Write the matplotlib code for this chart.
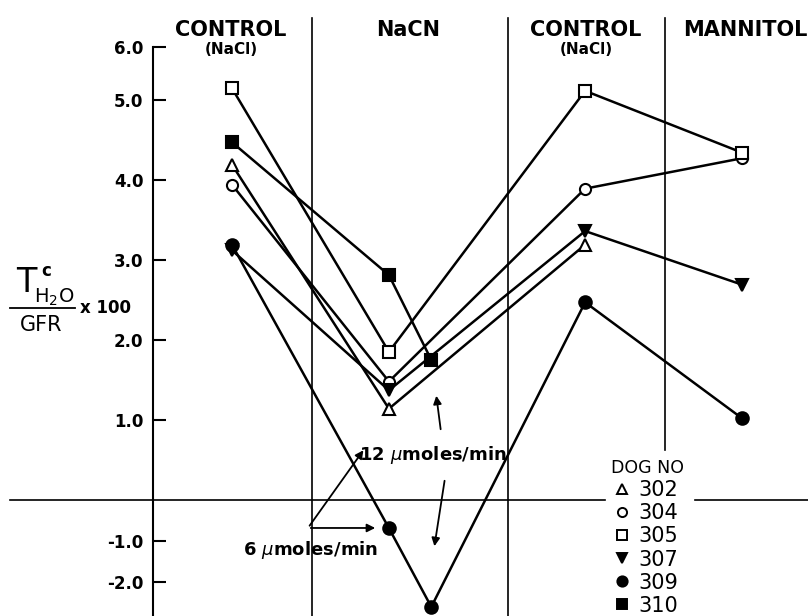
import numpy as np
import matplotlib
matplotlib.use("Agg")
import matplotlib.pyplot as plt
from matplotlib.lines import Line2D

# ---- data ----
conditions = ["CONTROL\n(NaCl)", "NaCN 6", "NaCN 12", "CONTROL\n(NaCl)", "MANNITOL"]
cond_x = [0.0, 1.0, 1.27, 2.25, 3.25]
dogs = ["302", "304", "305", "307", "309", "310"]
nan = np.nan
dog302 = [4.19, 1.14, nan, 3.19, nan]
dog304 = [3.94, 1.48, nan, 3.89, 4.27]
dog305 = [5.22, 1.85, nan, 5.17, 4.34]
dog307 = [3.12, 1.37, nan, 3.36, 2.69]
dog309 = [3.19, -0.69, -2.62, 2.47, 1.02]
dog310 = [4.47, 2.81, 1.75, nan, nan]
series = [dog302, dog304, dog305, dog307, dog309, dog310]
markers = ["^", "o", "s", "v", "o", "s"]
filled = [False, False, False, True, True, True]
msizes = [8, 8, 8, 9, 9, 8]
separators = [0.51, 1.76, 2.76]
yticks = [-2, -1, 1, 2, 3, 4, 5, 6]

# ---- scale: negative half compressed, above 5 compressed ----
def fwd(v):
    v = np.asarray(v, float)
    return np.where(v < 0, v * 0.51, np.where(v > 5, 5 + (v - 5) * 0.66, v))

def inv(t):
    t = np.asarray(t, float)
    return np.where(t < 0, t / 0.51, np.where(t > 5, 5 + (t - 5) / 0.66, t))

W, H = 808, 616
fig = plt.figure(figsize=(W / 100, H / 100), dpi=100)
ax = fig.add_axes([153 / W, 0.0, 1 - 153 / W, 1 - 47 / H])
ax.set_yscale("function", functions=(fwd, inv))
ax.set_xlim(-0.503, 3.67)
ax.set_ylim(-1.45 / 0.51, 6.0)

for vals, m, f, ms in zip(series, markers, filled, msizes):
    x = np.array(cond_x)
    y = np.array(vals)
    ok = ~np.isnan(y)
    ax.plot(x[ok], y[ok], color="black", lw=1.8, zorder=2)
    ax.plot(x[ok], y[ok], ls="none", marker=m, ms=ms,
            mfc="black" if f else "white", mec="black", mew=1.5, zorder=3)

# separators
ax.axvline(separators[0], ymin=0, ymax=1.051, color="black", lw=1.2, clip_on=False)
ax.axvline(separators[1], ymin=0, ymax=1.051, color="black", lw=1.2, clip_on=False)
ax.axvline(separators[2], ymin=0.292, ymax=1.051, color="black", lw=1.2, clip_on=False)

# zero line with gap for legend
tr = ax.get_yaxis_transform()
ax.plot([-0.218, 0.69], [0, 0], transform=tr, color="black", lw=1.2, clip_on=False)
ax.plot([0.827, 1.0], [0, 0], transform=tr, color="black", lw=1.2, clip_on=False)

# spines / ticks
for s in ["top", "right", "bottom"]:
    ax.spines[s].set_visible(False)
ax.spines["left"].set_linewidth(1.5)
ax.set_xticks([])
ax.set_yticks(yticks)
ax.set_yticklabels([f"{t:.1f}" for t in yticks])
ax.tick_params(axis="y", direction="in", length=9, width=1.5, pad=7,
               labelsize=12)
for lab in ax.get_yticklabels():
    lab.set_fontweight("bold")

# headers (figure pixel coords)
def ftext(x, y, s, **kw):
    fig.text(x / W, 1 - y / H, s, **kw)

hk = dict(fontsize=15, ha="center", va="center", fontweight="bold")
sk = dict(fontsize=11, ha="center", va="center", fontweight="bold")
ftext(231, 30, "CONTROL", **hk)
ftext(231, 50, "(NaCl)", **sk)
ftext(408, 30, "NaCN", **hk)
ftext(586, 30, "CONTROL", **hk)
ftext(586, 50, "(NaCl)", **sk)
ftext(683, 30, "MANNITOL", fontsize=15, ha="left", va="center", fontweight="bold")

# y label
ftext(26, 282, "T", fontsize=24, ha="center", va="center")
ftext(46, 271, "c", fontsize=12, ha="center", va="center", fontweight="bold")
ftext(54, 297, "H$_\\mathsf{2}$O", fontsize=14, ha="center", va="center")
fig.add_artist(Line2D([10 / W, 75 / W], [1 - 308 / H, 1 - 308 / H], color="black", lw=1.3))
ftext(41, 325, "GFR", fontsize=15, ha="center", va="center")
ftext(106, 308, "x 100", fontsize=12, ha="center", va="center", fontweight="bold")

# annotations (axes fraction)
ak = dict(arrowstyle="-|>", color="black", lw=1.3, mutation_scale=12)
ax.annotate("", xy=(0.3237, 0.2953), xytext=(0.2366, 0.1547),
            xycoords="axes fraction", arrowprops=ak)
ax.annotate("", xy=(0.3435, 0.1547), xytext=(0.2366, 0.1547),
            xycoords="axes fraction", arrowprops=ak)
ax.annotate("", xy=(0.432, 0.3919), xytext=(0.4397, 0.3234),
            xycoords="axes fraction", arrowprops=ak)
ax.annotate("", xy=(0.429, 0.1178), xytext=(0.4458, 0.2425),
            xycoords="axes fraction", arrowprops=ak)
ax.text(0.4275, 0.283, "12 $\\mu$moles/min", transform=ax.transAxes,
        fontsize=13, ha="center", va="center", fontweight="bold")
ax.text(0.241, 0.116, "6 $\\mu$moles/min", transform=ax.transAxes,
        fontsize=13, ha="center", va="center", fontweight="bold")

# legend
handles = [Line2D([], [], ls="none", marker=m, ms=ms * 0.82,
                  mfc="black" if f else "white", mec="black", mew=1.4)
           for m, f, ms in zip(markers, filled, msizes)]
leg = ax.legend(handles, dogs, title="DOG NO", frameon=False,
                loc="upper left", bbox_to_anchor=(611 / W, 1 - 459 / H),
                bbox_transform=fig.transFigure, fontsize=15,
                title_fontsize=12.5, handlelength=1.1, handletextpad=0.2,
                labelspacing=0.15, borderpad=0, borderaxespad=0)
leg._legend_box.align = "left"

fig.savefig("out.png", dpi=100)
